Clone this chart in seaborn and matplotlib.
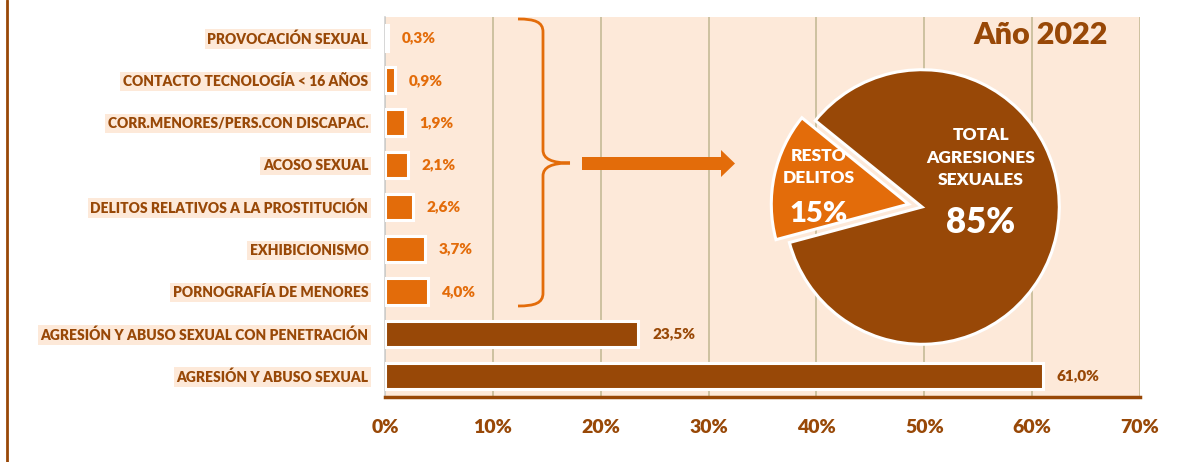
import matplotlib
matplotlib.use("Agg")
import matplotlib.pyplot as plt
import matplotlib.patches as mpatches
from matplotlib.path import Path
from matplotlib.lines import Line2D
import seaborn as sns
import pandas as pd

# data
categories = [
    "PROVOCACIÓN SEXUAL",
    "CONTACTO TECNOLOGÍA < 16 AÑOS",
    "CORR.MENORES/PERS.CON DISCAPAC.",
    "ACOSO SEXUAL",
    "DELITOS RELATIVOS A LA PROSTITUCIÓN",
    "EXHIBICIONISMO",
    "PORNOGRAFÍA DE MENORES",
    "AGRESIÓN Y ABUSO SEXUAL CON PENETRACIÓN",
    "AGRESIÓN Y ABUSO SEXUAL",
]
values = [0.3, 0.9, 1.9, 2.1, 2.6, 3.7, 4.0, 23.5, 61.0]
value_labels = ["0,3%", "0,9%", "1,9%", "2,1%", "2,6%", "3,7%", "4,0%", "23,5%", "61,0%"]
pie_labels = ["RESTO\nDELITOS", "TOTAL\nAGRESIONES\nSEXUALES"]
pie_values = [15, 85]
pie_pct = ["15%", "85%"]
x_ticks = [0, 10, 20, 30, 40, 50, 60, 70]

ORANGE = "#E36C0A"
BROWN = "#984807"
PEACH = "#FDE9D9"
GRID = "#C9BE9C"
WT = "heavy"

bar_colors = [ORANGE] * 7 + [BROWN] * 2

sns.set_style("white")
plt.rcParams["font.family"] = ["Lato", "DejaVu Sans"]

W, H = 1180, 462
fig = plt.figure(figsize=(W / 100, H / 100), dpi=100)


def px(x, y):
    return (x / W, 1 - y / H)


ax = fig.add_axes([385 / W, 1 - 397 / H, (1140 - 385) / W, (397 - 17) / H])
ax.set_facecolor(PEACH)

df = pd.DataFrame({"cat": categories, "val": values})
sns.barplot(data=df, y="cat", x="val", hue="cat", palette=bar_colors,
            saturation=1, legend=False, orient="h", width=0.62, ax=ax,
            edgecolor="white", linewidth=2.2, zorder=3)

ax.set_xlim(0, 70)
ax.set_xticks(x_ticks)
ax.set_xticklabels([f"{t}%" for t in x_ticks], fontsize=14, fontweight=WT, color=BROWN)
ax.set_xlabel("")
ax.set_ylabel("")
ax.grid(axis="x", color=GRID, linewidth=1.3, zorder=0)
ax.grid(axis="y", visible=False)
ax.set_axisbelow(True)

for s in ["top", "right"]:
    ax.spines[s].set_visible(False)
ax.spines["bottom"].set_color(BROWN)
ax.spines["bottom"].set_linewidth(2.5)
ax.spines["left"].set_color("#D0D0D0")
ax.spines["left"].set_linewidth(1.2)
ax.tick_params(axis="x", length=6, width=2.5, color=BROWN, pad=10)
ax.set_yticks(range(len(categories)), minor=False)
ax.set_yticks([i + 0.5 for i in range(-1, len(categories))], minor=True)
ax.tick_params(axis="y", which="major", length=0, pad=12)
ax.tick_params(axis="y", which="minor", length=5, width=1, color="#D0D0D0")

for lab in ax.get_yticklabels():
    lab.set_fontsize(10)
    lab.set_fontweight(WT)
    lab.set_color(BROWN)
    lab.set_bbox(dict(facecolor=PEACH, edgecolor="none", pad=2))

for i, (v, t) in enumerate(zip(values, value_labels)):
    ax.annotate(t, xy=(v, i), xytext=(10, 0), textcoords="offset points",
                va="center", ha="left", fontsize=11, fontweight=WT,
                color=bar_colors[i])

# left border line
fig.add_artist(Line2D([7 / W, 7 / W], [0, 1], color=BROWN, linewidth=2,
                      transform=fig.transFigure))

# brace
bp = [(518, 19), (535, 19), (543, 22), (543, 32), (543, 150),
      (543, 159), (552, 163), (570, 163),
      (552, 163), (543, 167), (543, 176), (543, 293),
      (543, 303), (535, 306), (518, 306)]
codes = [Path.MOVETO, Path.CURVE4, Path.CURVE4, Path.CURVE4, Path.LINETO,
         Path.CURVE4, Path.CURVE4, Path.CURVE4,
         Path.CURVE4, Path.CURVE4, Path.CURVE4, Path.LINETO,
         Path.CURVE4, Path.CURVE4, Path.CURVE4]
brace = mpatches.PathPatch(Path([px(*p) for p in bp], codes), fill=False,
                           edgecolor=ORANGE, linewidth=2, transform=fig.transFigure)
fig.add_artist(brace)

# arrow
arrow_pts = [(582, 157), (721, 157), (721, 150), (735, 163.5),
             (721, 177), (721, 170), (582, 170)]
fig.add_artist(mpatches.Polygon([px(*p) for p in arrow_pts], closed=True,
                                facecolor=ORANGE, edgecolor="none",
                                transform=fig.transFigure))

# pie
cx, cy, r = 922, 207, 143
lim = 1.2
half = r * lim
pax = fig.add_axes([(cx - half) / W, 1 - (cy + half) / H, 2 * half / W, 2 * half / H])
pax.set_xlim(-lim, lim)
pax.set_ylim(-lim, lim)
pax.set_aspect("equal")
pax.axis("off")
pax.patch.set_alpha(0)
pax.pie(pie_values, colors=[ORANGE, BROWN], startangle=141, counterclock=True,
        explode=[0.1, 0], radius=1,
        wedgeprops=dict(edgecolor="white", linewidth=2.2))

pax.text(-0.755, 0.29, pie_labels[0], ha="center", va="center", color="white",
         fontsize=12.5, fontweight=WT, linespacing=1.5)
pax.text(-0.755, -0.05, pie_pct[0], ha="center", va="center", color="white",
         fontsize=21, fontweight=WT)
pax.text(0.43, 0.36, pie_labels[1], ha="center", va="center", color="white",
         fontsize=12.5, fontweight=WT, linespacing=1.5)
pax.text(0.43, -0.11, pie_pct[1], ha="center", va="center", color="white",
         fontsize=25, fontweight=WT)

fig.text(1108 / W, 1 - 35 / H, "Año 2022", ha="right", va="center",
         fontsize=22, fontweight=WT, color=BROWN)

fig.savefig("out.png", dpi=100)
